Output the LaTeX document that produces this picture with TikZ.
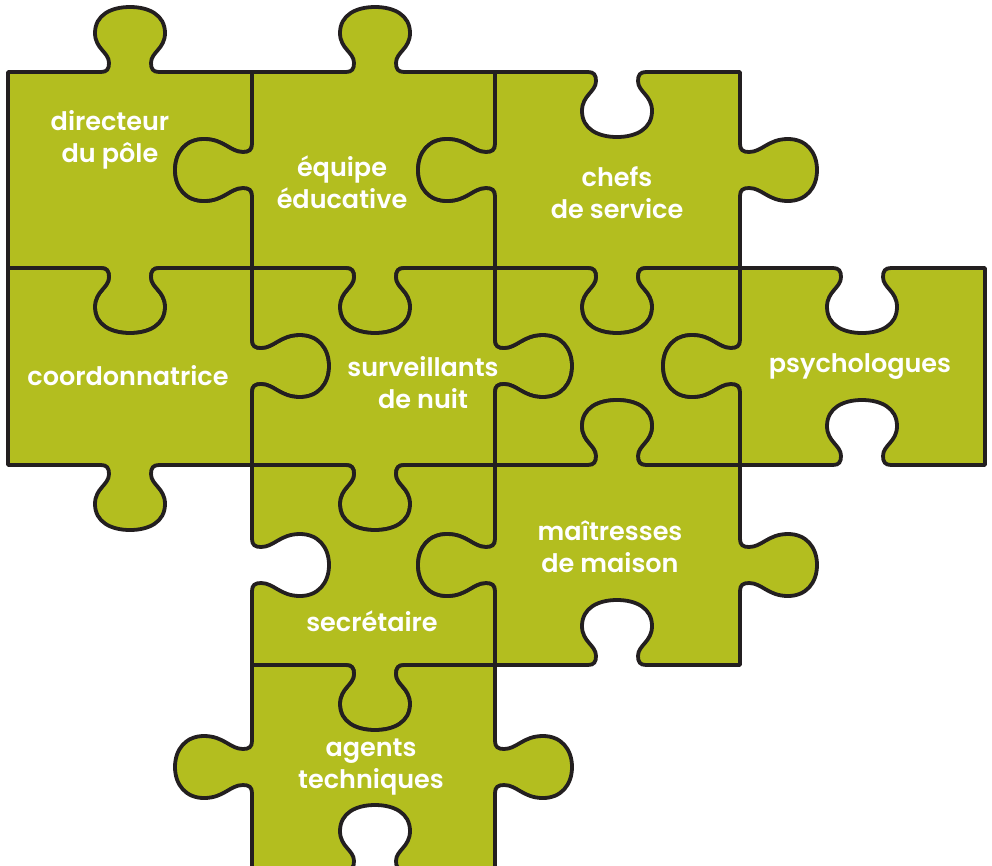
\documentclass[tikz,border=0pt]{standalone}
\usepackage{fontspec}
\setmainfont{Poppins SemiBold}
\definecolor{puzzlegreen}{RGB}{179,190,31}
\definecolor{puzzleline}{RGB}{35,31,32}
% horizontal edge tab: centre x, edge y, run (+1 right, -1 left), bump (+1 down, -1 up)
\newcommand\tabH[4]{%
  -- ({#1+(#3)*(-29)},#2) .. controls ({#1+(#3)*(-23)},#2) and ({#1+(#3)*(-21)},{#2+(#4)*3}) .. ({#1+(#3)*(-21)},{#2+(#4)*9})
  .. controls ({#1+(#3)*(-21)},{#2+(#4)*20}) and ({#1+(#3)*(-35)},{#2+(#4)*23}) .. ({#1+(#3)*(-35)},{#2+(#4)*39})
  .. controls ({#1+(#3)*(-35)},{#2+(#4)*57}) and ({#1+(#3)*(-19)},{#2+(#4)*65}) .. ({#1},{#2+(#4)*65})
  .. controls ({#1+(#3)*19},{#2+(#4)*65}) and ({#1+(#3)*35},{#2+(#4)*57}) .. ({#1+(#3)*35},{#2+(#4)*39})
  .. controls ({#1+(#3)*35},{#2+(#4)*23}) and ({#1+(#3)*21},{#2+(#4)*20}) .. ({#1+(#3)*21},{#2+(#4)*9})
  .. controls ({#1+(#3)*21},{#2+(#4)*3}) and ({#1+(#3)*23},#2) .. ({#1+(#3)*29},#2)}
% vertical edge tab: edge x, centre y, run (+1 down, -1 up), bump (+1 right, -1 left)
\newcommand\tabV[4]{%
  -- (#1,{#2+(#3)*(-26)}) .. controls (#1,{#2+(#3)*(-20)}) and ({#1+(#4)*3},{#2+(#3)*(-18)}) .. ({#1+(#4)*9},{#2+(#3)*(-18)})
  .. controls ({#1+(#4)*22},{#2+(#3)*(-18)}) and ({#1+(#4)*28},{#2+(#3)*(-31)}) .. ({#1+(#4)*48},{#2+(#3)*(-31)})
  .. controls ({#1+(#4)*66},{#2+(#3)*(-31)}) and ({#1+(#4)*77},{#2+(#3)*(-18)}) .. ({#1+(#4)*77},{#2})
  .. controls ({#1+(#4)*77},{#2+(#3)*18}) and ({#1+(#4)*66},{#2+(#3)*31}) .. ({#1+(#4)*48},{#2+(#3)*31})
  .. controls ({#1+(#4)*28},{#2+(#3)*31}) and ({#1+(#4)*22},{#2+(#3)*18}) .. ({#1+(#4)*9},{#2+(#3)*18})
  .. controls ({#1+(#4)*3},{#2+(#3)*18}) and (#1,{#2+(#3)*20}) .. (#1,{#2+(#3)*26})}
\tikzset{
  piece/.style={fill=puzzlegreen, draw=puzzleline, line width=3.8pt, line join=round},
  lbl/.style={text=white, font=\fontsize{25.5}{32}\selectfont, align=center, inner sep=0pt}
}
\begin{document}
\begin{tikzpicture}[x=1pt, y=-1pt]
  \useasboundingbox (0,0) rectangle (992,865);
  \clip (0,0) rectangle (992,865);
  % row 1
  \path[piece] (8,72) \tabH{130}{72}{1}{-1} -- (252,72) \tabV{252}{170}{1}{-1} -- (252,268) \tabH{130}{268}{-1}{1} -- (8,268) -- cycle;
  \path[piece] (252,72) \tabH{375}{72}{1}{-1} -- (495,72) \tabV{495}{170}{1}{-1} -- (495,268) \tabH{375}{268}{-1}{1} -- (252,268) \tabV{252}{170}{-1}{-1} -- cycle;
  \path[piece] (495,72) \tabH{617}{72}{1}{1} -- (740,72) \tabV{740}{170}{1}{1} -- (740,268) \tabH{617}{268}{-1}{1} -- (495,268) \tabV{495}{170}{-1}{-1} -- cycle;
  % row 2
  \path[piece] (8,268) \tabH{130}{268}{1}{1} -- (252,268) \tabV{252}{366}{1}{1} -- (252,465) \tabH{130}{465}{-1}{1} -- (8,465) -- cycle;
  \path[piece] (252,268) \tabH{375}{268}{1}{1} -- (495,268) \tabV{495}{366}{1}{1} -- (495,465) \tabH{375}{465}{-1}{1} -- (252,465) \tabV{252}{366}{-1}{1} -- cycle;
  \path[piece] (495,268) \tabH{617}{268}{1}{1} -- (740,268) \tabV{740}{366}{1}{-1} -- (740,465) \tabH{617}{465}{-1}{-1} -- (495,465) \tabV{495}{366}{-1}{1} -- cycle;
  \path[piece] (740,268) \tabH{862}{268}{1}{1} -- (985,268) -- (985,465) \tabH{862}{465}{-1}{-1} -- (740,465) \tabV{740}{366}{-1}{-1} -- cycle;
  % row 3
  \path[piece] (252,465) \tabH{375}{465}{1}{1} -- (495,465) \tabV{495}{565}{1}{-1} -- (495,665) \tabH{375}{665}{-1}{1} -- (252,665) \tabV{252}{565}{-1}{1} -- cycle;
  \path[piece] (495,465) \tabH{617}{465}{1}{-1} -- (740,465) \tabV{740}{565}{1}{1} -- (740,665) \tabH{617}{665}{-1}{-1} -- (495,665) \tabV{495}{565}{-1}{-1} -- cycle;
  % row 4
  \path[piece] (252,665) \tabH{375}{665}{1}{1} -- (495,665) \tabV{495}{767}{1}{1} -- (495,870) \tabH{375}{870}{-1}{-1} -- (252,870) \tabV{252}{767}{-1}{-1} -- cycle;
  % labels
  \foreach \x/\y/\t [count=\i] in {110/140/{directeur\\du pôle}, 342/182/{équipe\\éducative}, 617/193/{chefs\\de service},
      128/376/coordonnatrice, 423/383/{surveillants\\de nuit}, 860/367/psychologues,
      372/621/secrétaire, 610/547/{maîtresses\\de maison}, 371/767/{agents\\techniques}}
    \node[lbl] (lbl\i) at (\x,\y) {\t};
\end{tikzpicture}
\end{document}
